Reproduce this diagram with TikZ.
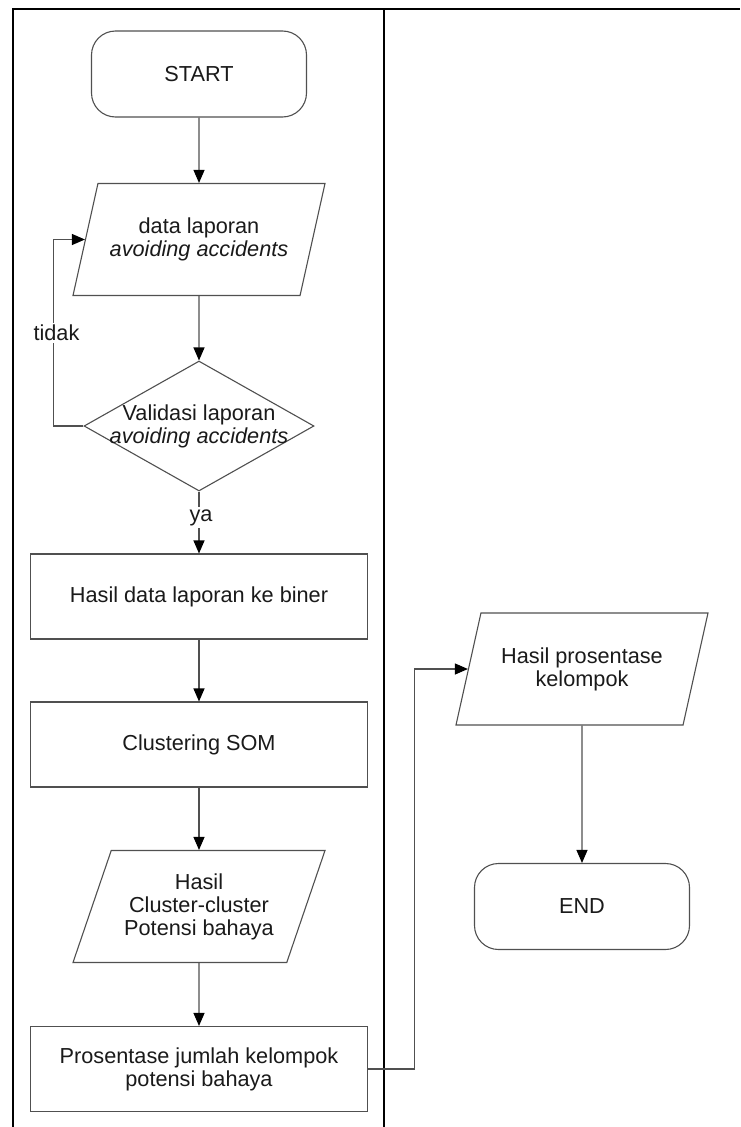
\documentclass[tikz,border=0pt]{standalone}
\usepackage{fontspec}
\setmainfont{Liberation Sans}
\usetikzlibrary{shapes.geometric,arrows.meta}

\definecolor{edge}{HTML}{505050}
\definecolor{ink}{HTML}{1A1A1A}

\tikzset{
  base/.style={draw=edge, line width=1.1pt, inner sep=0pt, text=ink, align=center,
    font=\fontsize{21.7}{23}\selectfont},
  terminal/.style={base, rectangle, rounded corners=24pt, minimum width=215pt, minimum height=86pt},
  process/.style={base, rectangle, minimum width=337pt, minimum height=85pt},
  io/.style={base, trapezium, trapezium left angle=60, trapezium right angle=120,
    trapezium stretches body, minimum width=252pt, minimum height=112pt},
  decision/.style={base, diamond, minimum width=230pt, minimum height=130pt},
  label/.style={inner sep=0pt, text=ink, align=center, font=\fontsize{21.7}{23}\selectfont},
  tag/.style={label, fill=white, inner sep=2pt},
  flow/.style={draw=edge, line width=1.1pt,
    -{Triangle[length=13pt,width=11pt,color=black]}},
  frame/.style={draw=black, line width=1.3pt}
}

\begin{document}
\begin{tikzpicture}[x=1pt, y=-1pt]
  \useasboundingbox (0,0) rectangle (740,1127);
  \fill[white] (0,0) rectangle (740,1127);

  % swimlane frame
  \draw[frame] (13,1127) -- (13,9) -- (740,9);
  \draw[frame] (384,9) -- (384,1127);

  % left lane
  \node[terminal] (start) at (199,74) {START};
  \node[io] (data) at (199,239.5) {data laporan\\\textit{avoiding accidents}};
  \node[decision] (valid) at (199,426) {};
  \node[label] (validtxt) at (valid.center) {Validasi laporan\\\textit{avoiding accidents}};
  \node[process] (biner) at (199,596.5) {Hasil data laporan ke biner};
  \node[process] (som) at (199,744.5) {Clustering SOM};
  \node[io] (cluster) at (199,906.5) {Hasil\\Cluster-cluster\\Potensi bahaya};
  \node[process] (persen) at (199,1069) {Prosentase jumlah kelompok\\potensi bahaya};

  % right lane
  \node[io] (hasil) at (582,669) {Hasil prosentase\\kelompok};
  \node[terminal] (end) at (582,906.5) {END};

  % connectors
  \draw[flow] (start) -- (data);
  \draw[flow] (data) -- (valid);
  \draw[flow] (valid.south) -- node[tag, pos=0.42, xshift=2pt] (ya) {ya} (biner.north);
  \draw[flow] (valid.west) -- ++(-30,0) |- node[tag, pos=0.25, xshift=3pt] (tidak) {tidak} (data.west);
  \draw[flow] (biner) -- (som);
  \draw[flow] (som) -- (cluster);
  \draw[flow] (cluster) -- (persen);
  \draw[flow] (persen.east) -- ++(46,0) |- (hasil.west);
  \draw[flow] (hasil) -- (end);
\end{tikzpicture}
\end{document}
